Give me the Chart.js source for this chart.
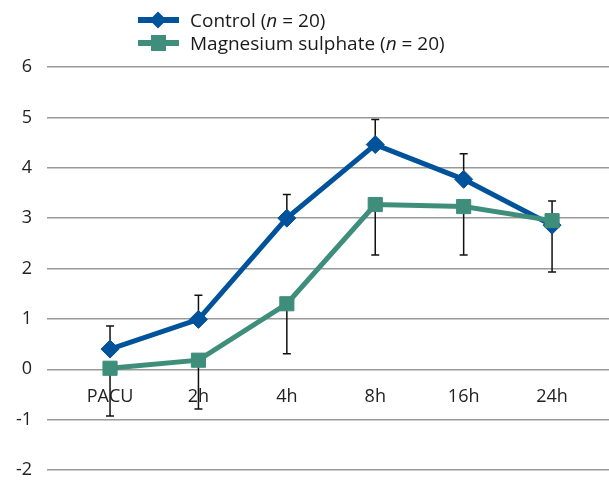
<!DOCTYPE html>
<html>
<head>
<meta charset="utf-8">
<script src="https://cdn.jsdelivr.net/npm/chart.js@4"></script>
<style>
  html, body { margin: 0; padding: 0; background: #fff; overflow: hidden; }
  #wrap { position: relative; width: 609px; height: 482px; }
  canvas { display: block; }
  #legend { position: absolute; left: 138px; top: 0; font-family: "Open Sans", sans-serif; font-size: 19px; color: #1a1a1a; }
  .row { position: absolute; left: 0; height: 24px; white-space: nowrap; }
  .row .ln { position: absolute; left: 0; top: 9px; width: 41px; height: 6px; }
  .row .mk { position: absolute; }
  .row span.t { position: absolute; left: 52px; top: 0; line-height: 24px; }
</style>
</head>
<body>
<div id="wrap">
  <canvas id="chart" width="609" height="482"></canvas>
  <div id="legend">
    <div class="row" style="top:8px">
      <div class="ln" style="background:#00529b"></div>
      <div class="mk" style="left:14px;top:6px;width:12px;height:12px;background:#00529b;transform:rotate(45deg)"></div>
      <span class="t">Control (<i>n</i> = 20)</span>
    </div>
    <div class="row" style="top:31px">
      <div class="ln" style="background:#3f8e7c"></div>
      <div class="mk" style="left:13px;top:4px;width:15px;height:16px;background:#3f8e7c"></div>
      <span class="t">Magnesium sulphate (<i>n</i> = 20)</span>
    </div>
  </div>
</div>
<script>
const categories = ["PACU", "2h", "4h", "8h", "16h", "24h"];
const controlValues = [0.40, 0.99, 3.0, 4.46, 3.77, 2.86];
const controlErrUp = [0.46, 0.48, 0.47, 0.50, 0.51, 0.48];
const mgValues = [0.02, 0.18, 1.30, 3.27, 3.23, 2.95];
const mgErrDown = [0.95, 0.97, 0.99, 1.00, 0.96, 1.02];
const yTicks = [-2, -1, 0, 1, 2, 3, 4, 5, 6];

const FONT = "'Open Sans', sans-serif";

// error bars: control goes up, magnesium goes down
const errorBars = {
  id: 'errorBars',
  beforeDatasetsDraw(chart) {
    const ctx = chart.ctx;
    const y = chart.scales.y;
    const sets = [[0, controlValues, controlErrUp, 1], [1, mgValues, mgErrDown, -1]];
    ctx.save();
    ctx.strokeStyle = '#111';
    ctx.lineWidth = 1.5;
    sets.forEach(([idx, vals, errs, dir]) => {
      const meta = chart.getDatasetMeta(idx);
      meta.data.forEach((pt, i) => {
        const y0 = y.getPixelForValue(vals[i]);
        const y1 = y.getPixelForValue(vals[i] + dir * errs[i]);
        ctx.beginPath();
        ctx.moveTo(pt.x, y0);
        ctx.lineTo(pt.x, y1);
        ctx.moveTo(pt.x - 4, y1);
        ctx.lineTo(pt.x + 4, y1);
        ctx.stroke();
      });
    });
    ctx.restore();
  }
};

new Chart(document.getElementById('chart'), {
  type: 'line',
  data: {
    datasets: [
      {
        label: 'Control (n = 20)',
        data: controlValues.map((v, i) => ({ x: i, y: v })),
        borderColor: '#00529b',
        backgroundColor: '#00529b',
        borderWidth: 5,
        pointStyle: 'rectRot',
        pointRadius: 9,
        pointBorderWidth: 1,
        order: 1
      },
      {
        label: 'Magnesium sulphate (n = 20)',
        data: mgValues.map((v, i) => ({ x: i, y: v })),
        borderColor: '#3f8e7c',
        backgroundColor: '#3f8e7c',
        borderWidth: 5,
        pointStyle: 'rect',
        pointRadius: 10,
        pointBorderWidth: 1,
        order: 0
      }
    ]
  },
  options: {
    responsive: false,
    animation: false,
    layout: { autoPadding: false, padding: { top: 67, right: 0, bottom: 12, left: 0 } },
    plugins: { legend: { display: false }, tooltip: { enabled: false } },
    scales: {
      x: {
        type: 'linear',
        position: { y: 0 },   // category labels sit under the zero line
        min: -0.713,
        max: 5.644,
        afterBuildTicks(scale) { scale.ticks = categories.map((c, i) => ({ value: i })); },
        afterFit(scale) { scale.height = 0; },
        grid: { display: false },
        border: { display: false },
        ticks: {
          padding: 9,
          color: '#222',
          font: { family: FONT, size: 18 },
          callback: (v) => categories[v]
        }
      },
      y: {
        min: -2,
        max: 6,
        afterBuildTicks(scale) { scale.ticks = yTicks.map(v => ({ value: v })); },
        afterFit(scale) {
          scale.width = 47;
          // tick padding otherwise eats space at the bottom
          scale.paddingTop = 0;
          scale.paddingBottom = 0;
        },
        grid: { color: '#9a9a9a', lineWidth: 1.5, drawTicks: false },
        border: { display: false },
        ticks: {
          padding: 15,
          color: '#222',
          font: { family: FONT, size: 18 }
        }
      }
    }
  },
  plugins: [errorBars]
});
</script>
</body>
</html>
